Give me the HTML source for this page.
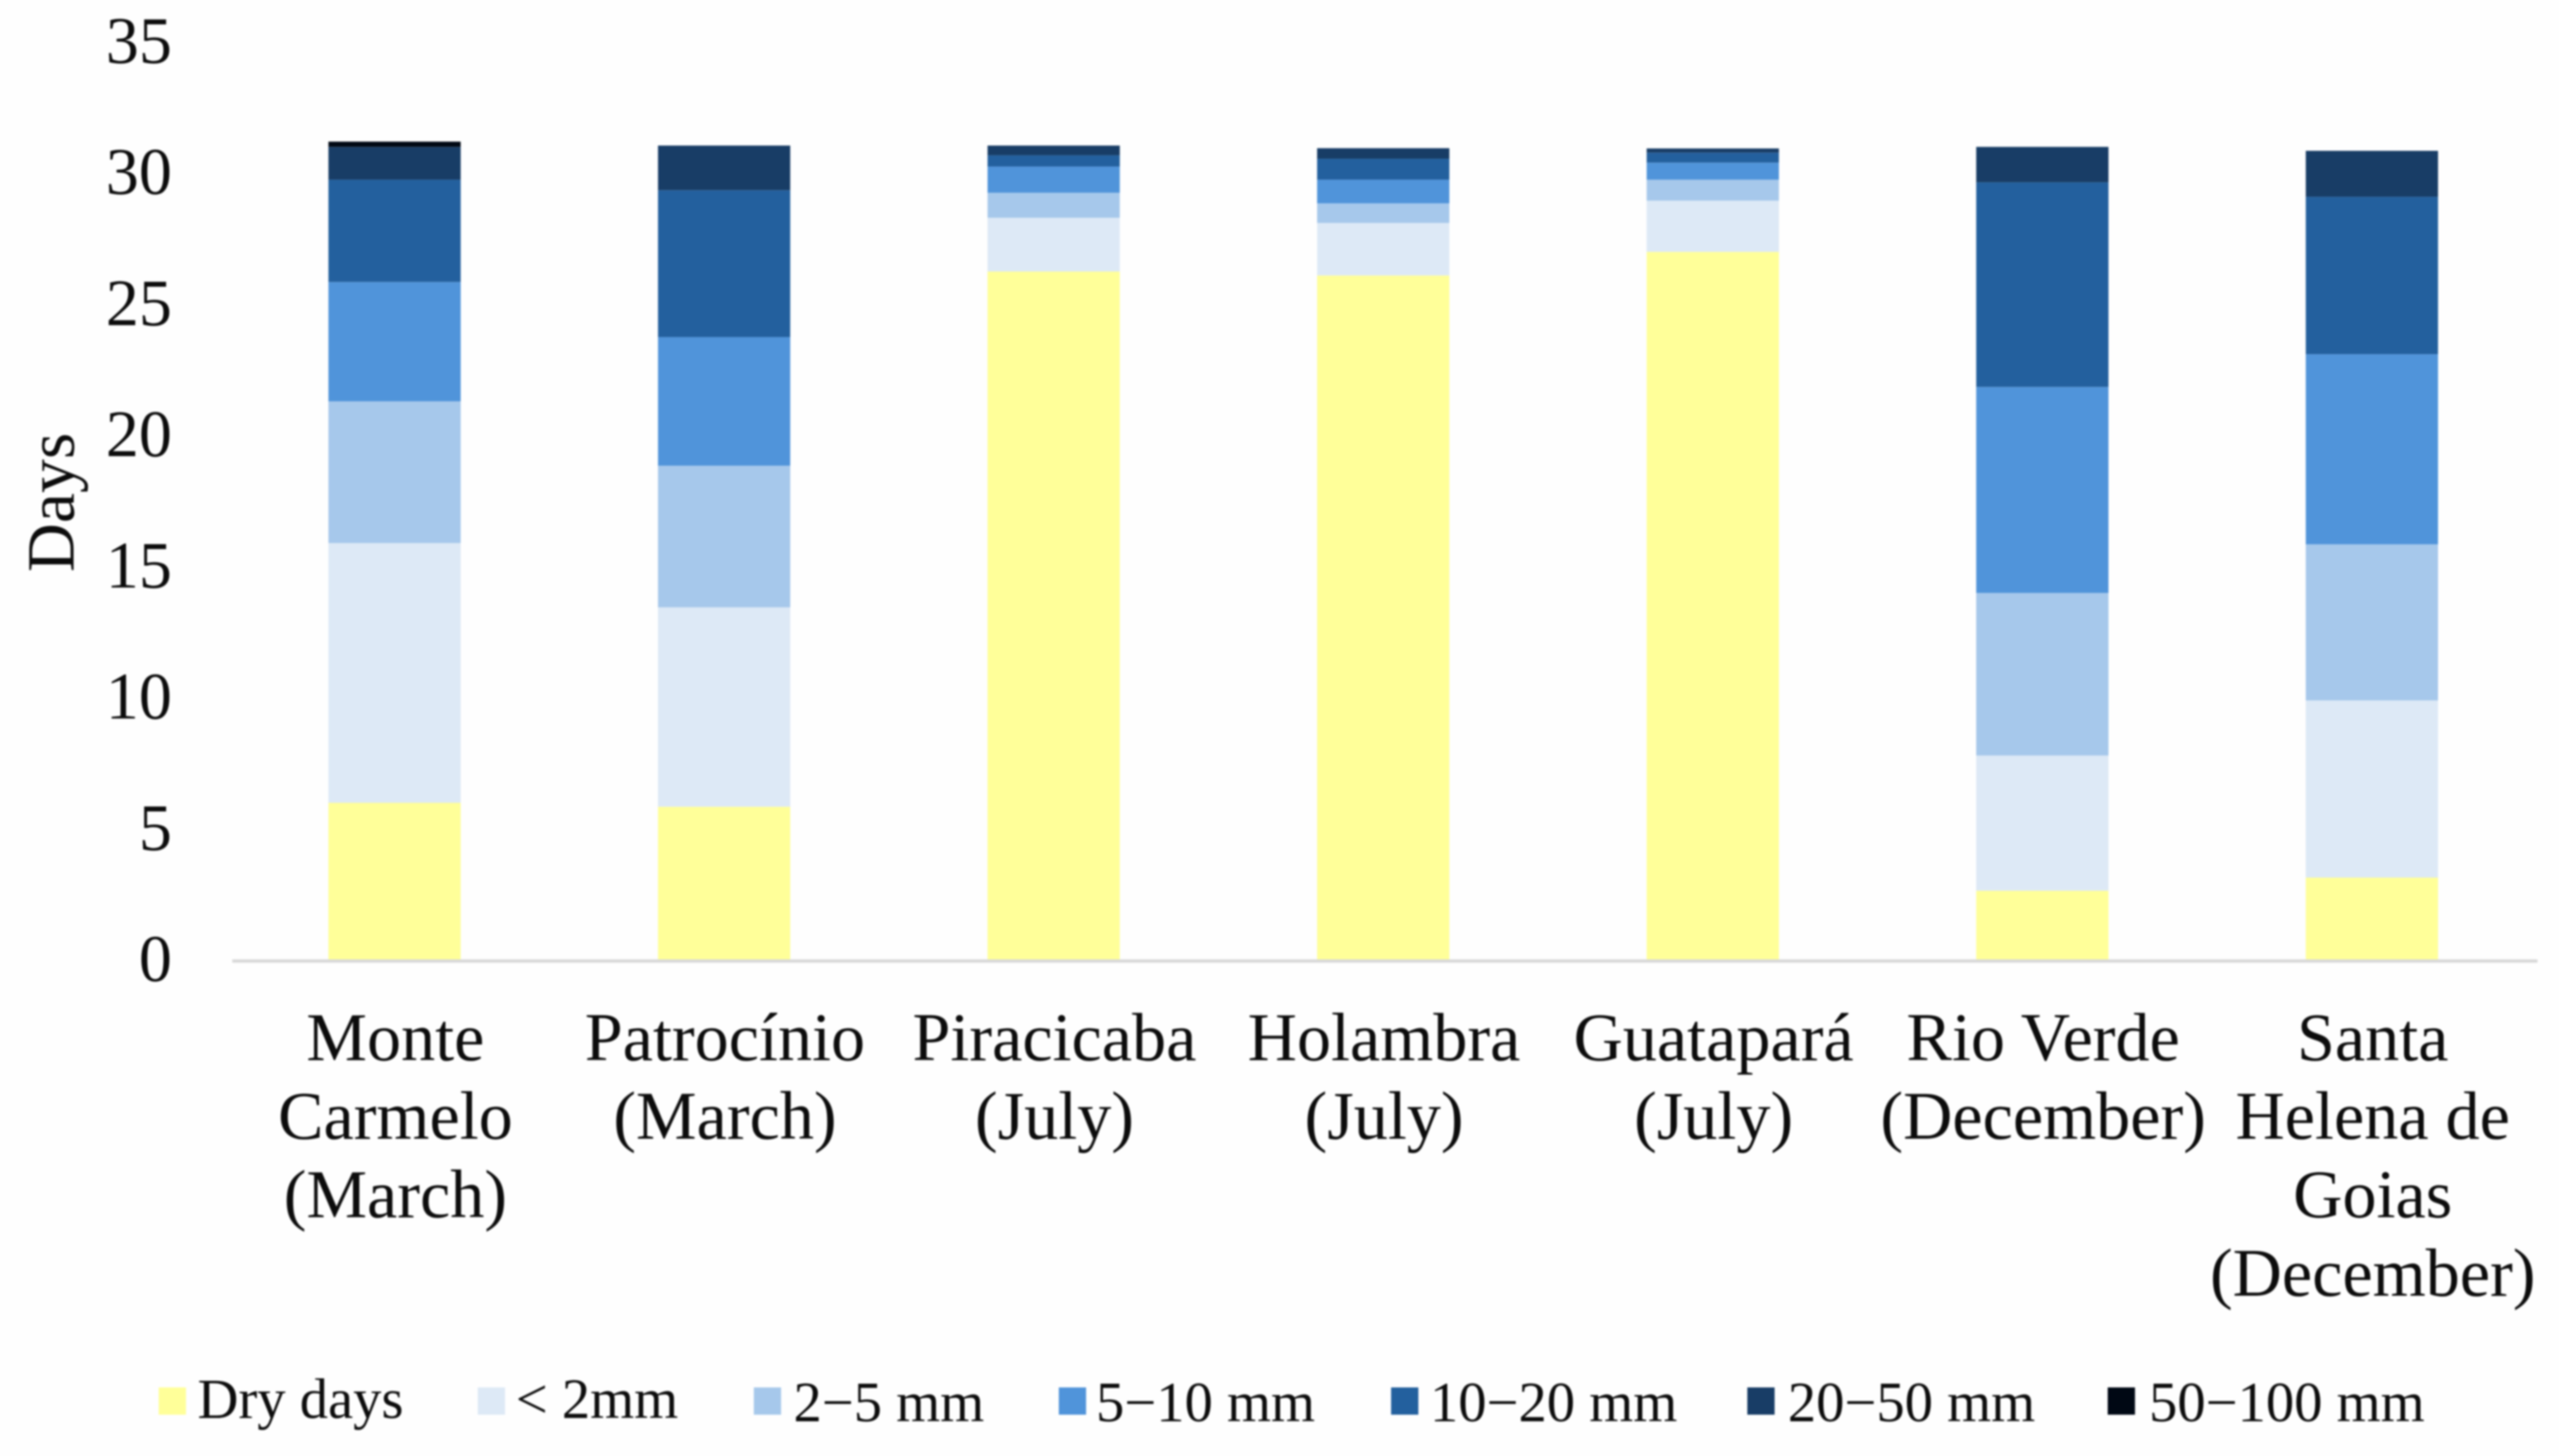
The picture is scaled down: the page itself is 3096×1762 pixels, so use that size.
<!DOCTYPE html>
<html lang="en">
<head>
<meta charset="utf-8">
<title>Rainfall class days by site</title>
<style>
html,body{margin:0;padding:0;background:#fefefe;}
#chart{display:block;width:3096px;height:1762px;filter:blur(1px);}
text{font-family:"Liberation Serif",serif;fill:#0c0c0c;}
</style>
</head>
<body>
<svg id="chart" xmlns="http://www.w3.org/2000/svg" width="3096" height="1762" viewBox="0 0 3096 1762">
  <rect x="0" y="0" width="3096" height="1762" fill="#fefefe"></rect>
  <g id="bars"></g>
  <line x1="281" y1="1163" x2="3070" y2="1163" stroke="#d9d9d9" stroke-width="4"></line>
  <g id="yticks"></g>
  <g id="xticks"></g>
  <text transform="translate(89,608) rotate(-90)" text-anchor="middle" font-size="82">Days</text>
  <g id="legend"></g>
</svg>
<script>
const categories = [
  ["Monte", "Carmelo", "(March)"],
  ["Patrocínio", "(March)"],
  ["Piracicaba", "(July)"],
  ["Holambra", "(July)"],
  ["Guatapará", "(July)"],
  ["Rio Verde", "(December)"],
  ["Santa", "Helena de", "Goias", "(December)"]
];
const tickValues = [0, 5, 10, 15, 20, 25, 30, 35];
const seriesNames = ["Dry days", "< 2mm", "2−5 mm", "5−10 mm", "10−20 mm", "20−50 mm", "50−100 mm"];
const seriesColors = ["#ffff99", "#dde9f6", "#a6c8eb", "#5094da", "#23609e", "#183d66", "#000814"];
const dryDays = [6.0, 5.85, 26.25, 26.1, 27.0, 2.65, 3.15];
const under2mm = [9.9, 7.6, 2.05, 2.0, 1.95, 5.15, 6.75];
const mm2to5 = [5.4, 5.4, 0.95, 0.75, 0.8, 6.2, 5.95];
const mm5to10 = [4.55, 4.9, 1.0, 0.9, 0.65, 7.85, 7.25];
const mm10to20 = [3.9, 5.6, 0.43, 0.8, 0.38, 7.8, 6.0];
const mm20to50 = [1.25, 1.7, 0.37, 0.4, 0.16, 1.35, 1.75];
const mm50to100 = [0.2, 0, 0, 0, 0, 0, 0];
const allSeries = [dryDays, under2mm, mm2to5, mm5to10, mm10to20, mm20to50, mm50to100];

const SVGNS = "http://www.w3.org/2000/svg";
const plotLeft = 279, plotRight = 3070, barWidth = 160, y0 = 1162, unitPx = 31.75;
function xCenter(i) { return plotLeft + (plotRight - plotLeft) * (i + 0.5) / categories.length; }
function yScale(v) { return y0 - v * unitPx; }

const barsG = document.getElementById("bars");
categories.forEach(function (cat, i) {
  let sum = 0;
  allSeries.forEach(function (series, s) {
    const v = series[i];
    if (v <= 0) { sum += v; return; }
    const top = yScale(sum + v);
    const bottom = yScale(sum);
    const r = document.createElementNS(SVGNS, "rect");
    r.setAttribute("x", xCenter(i) - barWidth / 2 - 1);
    r.setAttribute("y", top);
    r.setAttribute("width", barWidth);
    r.setAttribute("height", bottom - top);
    r.setAttribute("fill", seriesColors[s]);
    
    
    barsG.appendChild(r);
    sum += v;
  });
});

const yG = document.getElementById("yticks");
tickValues.forEach(function (t) {
  const el = document.createElementNS(SVGNS, "text");
  el.setAttribute("x", 208);
  el.setAttribute("y", yScale(t) + 25);
  el.setAttribute("text-anchor", "end");
  el.setAttribute("font-size", "80");
  el.textContent = t;
  
  
  yG.appendChild(el);
});

const xG = document.getElementById("xticks");
categories.forEach(function (lines, i) {
  lines.forEach(function (line, l) {
    const el = document.createElementNS(SVGNS, "text");
    el.setAttribute("x", xCenter(i));
    el.setAttribute("y", 1283 + l * 95);
    el.setAttribute("text-anchor", "middle");
    el.setAttribute("font-size", "82.5");
    el.textContent = line;
    
    
    xG.appendChild(el);
  });
});

const legendSwatchX = [192, 578, 912, 1281, 1683, 2114, 2550];
const legendTextX = [239, 624, 960, 1326, 1730, 2163, 2600];
const legendBaseline = [1716, 1716, 1720, 1720, 1720, 1720, 1720];
const legendG = document.getElementById("legend");
seriesNames.forEach(function (name, s) {
  const sw = document.createElementNS(SVGNS, "rect");
  sw.setAttribute("x", legendSwatchX[s]);
  sw.setAttribute("y", 1679);
  sw.setAttribute("width", 33);
  sw.setAttribute("height", 33);
  sw.setAttribute("fill", seriesColors[s]);
  
  
  legendG.appendChild(sw);
  const tx = document.createElementNS(SVGNS, "text");
  tx.setAttribute("x", legendTextX[s]);
  tx.setAttribute("y", legendBaseline[s]);
  tx.setAttribute("font-size", "68.5");
  tx.textContent = name;
  
  
  legendG.appendChild(tx);
});
</script>
</body>
</html>
